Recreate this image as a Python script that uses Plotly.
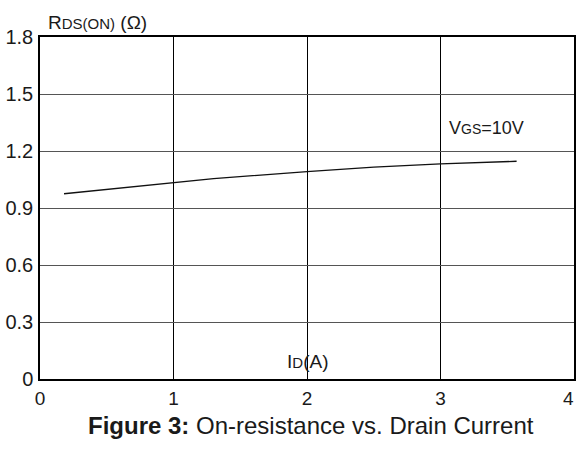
import plotly.graph_objects as go

# Drain current (A) and on-resistance (ohm) at VGS = 10 V
id_amps = [0.18, 0.6, 1.0, 1.3, 2.0, 2.5, 3.0, 3.57]
rds_on = [0.975, 1.005, 1.035, 1.055, 1.091, 1.115, 1.132, 1.146]

x_ticks = [0, 1, 2, 3, 4]
x_tick_text = ["0", "1", "2", "3", ""]
y_ticks = [0, 0.3, 0.6, 0.9, 1.2, 1.5, 1.8]
y_tick_text = ["0", "0.3", "0.6", "0.9", "1.2", "1.5", "1.8"]

FONT = "Liberation Sans, Arial, sans-serif"
INK = "#1a1a1a"

fig = go.Figure()
fig.add_trace(go.Scatter(
    x=id_amps, y=rds_on, mode="lines",
    line=dict(color="#111111", width=1.3),
    showlegend=False, hoverinfo="skip",
))

fig.update_layout(
    width=577, height=450,
    margin=dict(l=40, r=1, t=37, b=71),
    paper_bgcolor="white", plot_bgcolor="white",
    font=dict(family=FONT, size=19, color=INK),
    xaxis=dict(
        range=[0, 4], tickvals=x_ticks, ticktext=x_tick_text, ticks="",
        showgrid=True, gridcolor="#000000", gridwidth=1, zeroline=False,
        showline=True, linecolor="#000000", linewidth=1.5, mirror=True,
        tickfont=dict(size=19, color=INK), ticklabelstandoff=1,
    ),
    yaxis=dict(
        range=[0, 1.8], tickvals=y_ticks, ticktext=y_tick_text, ticks="",
        showgrid=True, gridcolor="#555555", gridwidth=1.3, zeroline=False,
        showline=True, linecolor="#000000", linewidth=1.5, mirror=True,
        tickfont=dict(size=20, color=INK), ticklabelstandoff=1,
    ),
    annotations=[
        # last x tick label, kept inside the page edge
        dict(
            text="4", xref="x", yref="y", x=4, y=0, yshift=-19, xshift=-6,
            xanchor="center", yanchor="middle", showarrow=False,
            font=dict(size=19, color=INK, family=FONT),
        ),
        dict(
            text="R<span style='font-size:15px'>DS(ON)</span> (Ω)",
            xref="paper", yref="paper", x=0.012, y=1.0, yshift=2,
            xanchor="left", yanchor="bottom", showarrow=False,
            font=dict(size=19, color=INK, family=FONT),
        ),
        dict(
            text="I<span style='font-size:15px'>D</span>(A)",
            xref="x", yref="y", x=2.0, y=0.0, yshift=5,
            xanchor="center", yanchor="bottom", showarrow=False,
            font=dict(size=19, color=INK, family=FONT),
        ),
        dict(
            text="V<span style='font-size:14px'>GS</span>=10V",
            xref="x", yref="y", x=3.05, y=1.32,
            xanchor="left", yanchor="middle", showarrow=False,
            font=dict(size=18, color=INK, family=FONT),
        ),
        dict(
            text="<b>Figure 3:</b> On-resistance vs. Drain Current",
            xref="paper", yref="paper", x=0.507, y=0, yshift=-46,
            xanchor="center", yanchor="middle", showarrow=False,
            font=dict(size=24, color=INK, family=FONT),
        ),
    ],
)

fig.write_html("out.html")
